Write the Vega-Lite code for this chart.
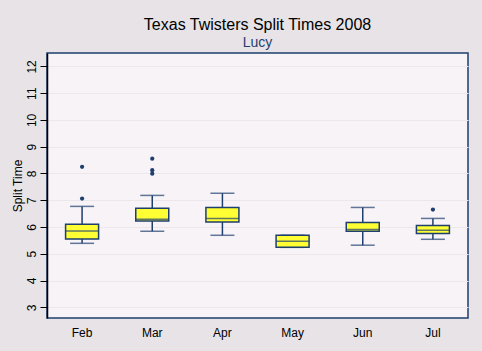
{
  "$schema": "https://vega.github.io/schema/vega-lite/v6.json",
  "autosize": "none",
  "padding": {"left": 47, "top": 53, "right": 14, "bottom": 33},
  "width": 421,
  "height": 265,
  "background": "#E7E3E7",
  "config": {
    "font": "Liberation Sans",
    "view": {"fill": "#F7F3F7", "stroke": "#1F3F6F", "strokeWidth": 1.5},
    "axisY": {
      "titleFontSize": 12,
      "titleFontWeight": "normal",
      "titleColor": "#000000",
      "titlePadding": 1,
      "labelOverlap": false,
      "labelAngle": -90,
      "labelFontSize": 12,
      "labelColor": "#000000",
      "labelPadding": 2,
      "tickSize": 7,
      "tickColor": "#000000",
      "domainColor": "#000000",
      "domainWidth": 1.5,
      "grid": true,
      "gridColor": "#EBE7EB",
      "gridWidth": 1
    }
  },
  "title": {
    "text": "Texas Twisters Split Times 2008",
    "subtitle": "Lucy",
    "fontSize": 16,
    "fontWeight": "normal",
    "color": "#000000",
    "subtitleFontSize": 14,
    "subtitleColor": "#1F3F6F",
    "subtitlePadding": 3,
    "offset": 3,
    "anchor": "middle"
  },
  "datasets": {
    "boxes": [
      {"month": "Feb", "lower": 5.39, "q1": 5.55, "median": 5.85, "q3": 6.10, "upper": 6.77},
      {"month": "Mar", "lower": 5.84, "q1": 6.22, "median": 6.29, "q3": 6.70, "upper": 7.18},
      {"month": "Apr", "lower": 5.69, "q1": 6.19, "median": 6.32, "q3": 6.73, "upper": 7.26},
      {"month": "May", "lower": 5.24, "q1": 5.24, "median": 5.47, "q3": 5.69, "upper": 5.69},
      {"month": "Jun", "lower": 5.32, "q1": 5.84, "median": 5.91, "q3": 6.17, "upper": 6.73},
      {"month": "Jul", "lower": 5.54, "q1": 5.76, "median": 5.88, "q3": 6.06, "upper": 6.32}
    ],
    "outliers": [
      {"month": "Feb", "value": 8.25},
      {"month": "Feb", "value": 7.06},
      {"month": "Mar", "value": 8.55},
      {"month": "Mar", "value": 8.12},
      {"month": "Mar", "value": 7.99},
      {"month": "Jul", "value": 6.65}
    ]
  },
  "encoding": {
    "x": {
      "field": "month",
      "type": "nominal",
      "sort": ["Feb", "Mar", "Apr", "May", "Jun", "Jul"],
      "scale": {"domain": ["Feb", "Mar", "Apr", "May", "Jun", "Jul"], "paddingInner": 0, "paddingOuter": 0},
      "axis": {
        "title": null,
        "labelAngle": 0,
        "ticks": false,
        "domain": false,
        "labelPadding": 9,
        "labelFontSize": 12,
        "labelColor": "#000000"
      }
    }
  },
  "layer": [
    {
      "data": {"name": "boxes"},
      "mark": {"type": "rule", "color": "#1F3F6F", "strokeWidth": 1.5},
      "encoding": {
        "y": {
          "field": "lower",
          "type": "quantitative",
          "scale": {"domain": [2.6, 12.5], "nice": false, "zero": false},
          "axis": {"title": "Split Time", "values": [3, 4, 5, 6, 7, 8, 9, 10, 11, 12]}
        },
        "y2": {"field": "upper"}
      }
    },
    {
      "data": {"name": "boxes"},
      "mark": {"type": "tick", "color": "#1F3F6F", "size": 24, "thickness": 1.5, "orient": "horizontal"},
      "encoding": {"y": {"field": "lower", "type": "quantitative", "axis": {"title": "Split Time", "values": [3, 4, 5, 6, 7, 8, 9, 10, 11, 12]}}}
    },
    {
      "data": {"name": "boxes"},
      "mark": {"type": "tick", "color": "#1F3F6F", "size": 24, "thickness": 1.5, "orient": "horizontal"},
      "encoding": {"y": {"field": "upper", "type": "quantitative", "axis": {"title": "Split Time", "values": [3, 4, 5, 6, 7, 8, 9, 10, 11, 12]}}}
    },
    {
      "data": {"name": "boxes"},
      "mark": {"type": "bar", "size": 33, "fill": "#FFFF33", "stroke": "#1F3F6F", "strokeWidth": 1.5},
      "encoding": {
        "y": {"field": "q1", "type": "quantitative", "axis": {"title": "Split Time", "values": [3, 4, 5, 6, 7, 8, 9, 10, 11, 12]}},
        "y2": {"field": "q3"}
      }
    },
    {
      "data": {"name": "boxes"},
      "mark": {"type": "tick", "color": "#1F3F6F", "size": 33, "thickness": 1.5, "orient": "horizontal"},
      "encoding": {"y": {"field": "median", "type": "quantitative", "axis": {"title": "Split Time", "values": [3, 4, 5, 6, 7, 8, 9, 10, 11, 12]}}}
    },
    {
      "data": {"name": "outliers"},
      "mark": {"type": "circle", "color": "#1F3F6F", "size": 18, "opacity": 1},
      "encoding": {"y": {"field": "value", "type": "quantitative", "axis": {"title": "Split Time", "values": [3, 4, 5, 6, 7, 8, 9, 10, 11, 12]}}}
    }
  ]
}
